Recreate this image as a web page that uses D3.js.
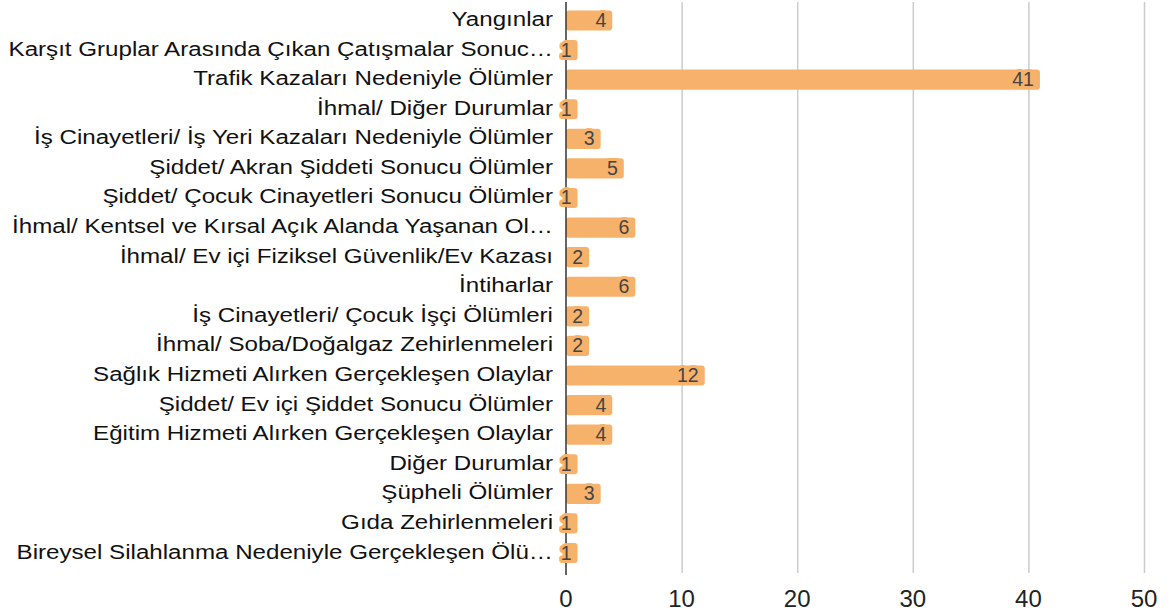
<!DOCTYPE html>
<html>
<head>
<meta charset="utf-8">
<script src="https://cdn.jsdelivr.net/npm/d3@7"></script>
<style>
  body { margin: 0; background: #fff; }
  svg { display: block; font-family: "Liberation Sans", Arial, sans-serif; }
  .grid line { stroke: #cccccc; stroke-width: 1.5; }
  .grid .domain { display: none; }
</style>
</head>
<body>
<svg id="chart" width="1168" height="616"></svg>
<script>
const categories = [
  "Yangınlar",
  "Karşıt Gruplar Arasında Çıkan Çatışmalar Sonuc…",
  "Trafik Kazaları Nedeniyle Ölümler",
  "İhmal/ Diğer Durumlar",
  "İş Cinayetleri/ İş Yeri Kazaları Nedeniyle Ölümler",
  "Şiddet/ Akran Şiddeti Sonucu Ölümler",
  "Şiddet/ Çocuk Cinayetleri Sonucu Ölümler",
  "İhmal/ Kentsel ve Kırsal Açık Alanda Yaşanan Ol…",
  "İhmal/ Ev içi Fiziksel Güvenlik/Ev Kazası",
  "İntiharlar",
  "İş Cinayetleri/ Çocuk İşçi Ölümleri",
  "İhmal/ Soba/Doğalgaz Zehirlenmeleri",
  "Sağlık Hizmeti Alırken Gerçekleşen Olaylar",
  "Şiddet/ Ev içi Şiddet Sonucu Ölümler",
  "Eğitim Hizmeti Alırken Gerçekleşen Olaylar",
  "Diğer Durumlar",
  "Şüpheli Ölümler",
  "Gıda Zehirlenmeleri",
  "Bireysel Silahlanma Nedeniyle Gerçekleşen Ölü…"
];
const values = [4, 1, 41, 1, 3, 5, 1, 6, 2, 6, 2, 2, 12, 4, 4, 1, 3, 1, 1];
const tickValues = [0, 10, 20, 30, 40, 50];

const barColor = "#f6b26b";
const svg = d3.select("#chart");
const margin = { top: 2, left: 566, right: 24, bottom: 41 };
const width = 1168, height = 616;

const x = d3.scaleLinear()
  .domain([0, 50])
  .range([margin.left, width - margin.right]);

const y = d3.scaleBand()
  .domain(categories)
  .range([5.7, 567.8])
  .paddingInner(0.32)
  .paddingOuter(0.16);

// grid lines
svg.append("g")
  .attr("class", "grid")
  .attr("transform", `translate(0,${margin.top})`)
  .call(d3.axisBottom(x).tickValues(tickValues.slice(1)).tickSize(height - margin.bottom - margin.top - 2).tickFormat(""));

// tick labels
svg.append("g")
  .selectAll("text")
  .data(tickValues)
  .enter()
  .append("text")
  .attr("x", (d) => x(d))
  .attr("y", 607)
  .attr("text-anchor", "middle")
  .attr("fill", "#222")
  .attr("font-size", 24)
  .text((d) => d);

// category labels (slightly wide lettering)
svg.append("g")
  .selectAll("g")
  .data(categories)
  .enter()
  .append("g")
  .attr("transform", (d) => `translate(${margin.left - 13},${y(d) + y.bandwidth() / 2 + 5.5})`)
  .append("text")
  .attr("transform", "scale(1.15,1)")
  .attr("text-anchor", "end")
  .attr("fill", "#111")
  .attr("font-size", 21)
  .text((d) => d);

// bars
svg.append("g")
  .selectAll("rect")
  .data(values)
  .enter()
  .append("rect")
  .attr("x", x(0))
  .attr("y", (d, i) => y(categories[i]))
  .attr("width", (d) => x(d) - x(0))
  .attr("height", y.bandwidth())
  .attr("rx", 3)
  .attr("fill", barColor);

// zero line
svg.append("line")
  .attr("x1", x(0))
  .attr("x2", x(0))
  .attr("y1", margin.top)
  .attr("y2", height - margin.bottom)
  .attr("stroke", "#333")
  .attr("stroke-width", 1.5);

// value labels with halo
svg.append("g")
  .selectAll("text")
  .data(values)
  .enter()
  .append("text")
  .attr("x", (d) => x(d) - 6)
  .attr("y", (d, i) => y(categories[i]) + y.bandwidth() / 2 + 6.5)
  .attr("text-anchor", "end")
  .attr("font-size", 19.5)
  .attr("fill", "#444")
  .attr("stroke", barColor)
  .attr("stroke-width", 6)
  .attr("stroke-linejoin", "round")
  .attr("paint-order", "stroke")
  .text((d) => d);
</script>
</body>
</html>
